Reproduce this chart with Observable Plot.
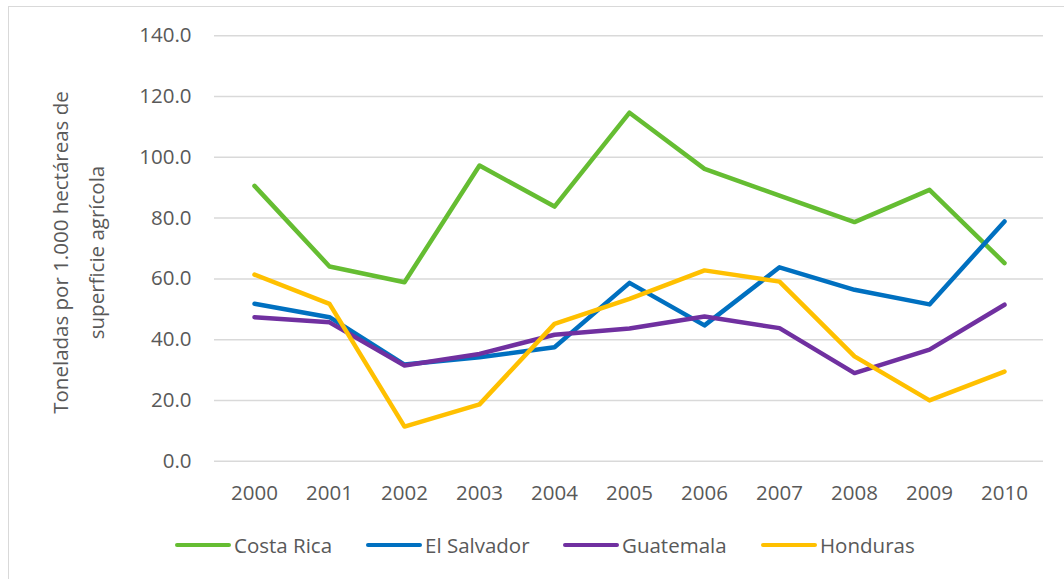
<!DOCTYPE html>
<html>
<head>
<meta charset="utf-8">
<script src="https://cdn.jsdelivr.net/npm/d3@7"></script>
<script src="https://cdn.jsdelivr.net/npm/@observablehq/plot@0.6"></script>
<style>
  html, body { margin: 0; padding: 0; background: #fff; overflow: hidden; }
  #wrap { position: relative; width: 1064px; height: 579px; overflow: hidden; font-family: "Open Sans", sans-serif; }
  #frame { position: absolute; left: 8px; top: 6px; width: 1200px; height: 800px; border: 1.5px solid #d9d9d9; box-sizing: border-box; }
  #chart { position: absolute; left: 0; top: 0; }
  .lg { position: absolute; top: 530px; height: 30px; display: flex; align-items: center; font-size: 20.5px; color: #595959; white-space: nowrap; }
  .sw { width: 56px; height: 4.5px; border-radius: 3px; margin-right: 3px; }
</style>
</head>
<body>
<div id="wrap">
  <div id="frame"></div>
  <div id="chart"></div>
  <div id="legend"></div>
</div>
<script>
const years = ["2000","2001","2002","2003","2004","2005","2006","2007","2008","2009","2010"];
const costaRica  = [90.6, 64.1, 58.9, 97.3, 83.8, 114.7, 96.2, 87.4, 78.7, 89.3, 65.2];
const elSalvador = [51.8, 47.4, 31.8, 34.2, 37.5, 58.7, 44.7, 63.8, 56.4, 51.6, 78.9];
const guatemala  = [47.4, 45.7, 31.5, 35.3, 41.6, 43.7, 47.6, 43.8, 29.0, 36.7, 51.5];
const honduras   = [61.4, 51.8, 11.4, 18.7, 45.2, 53.4, 62.8, 59.1, 34.5, 20.0, 29.5];
const seriesNames = ["Costa Rica", "El Salvador", "Guatemala", "Honduras"];
const seriesColors = ["#65bd32", "#0070c0", "#7030a0", "#ffc000"];
const yTicks = [0, 20, 40, 60, 80, 100, 120, 140];
const yTitle = "Toneladas por 1.000 hectáreas de\nsuperficie agrícola";
const legendLeft = [175, 366, 563, 761];

const seriesValues = [costaRica, elSalvador, guatemala, honduras];
const rows = [];
seriesNames.forEach((name, i) => {
  years.forEach((yr, j) => rows.push({year: yr, value: seriesValues[i][j], series: name}));
});

const H = 520;
const chart = Plot.plot({
  width: 1064,
  height: H,
  marginLeft: 214,
  marginRight: 21,
  marginTop: 35.3,
  marginBottom: H - 460.7,
  style: { fontFamily: "Open Sans, sans-serif", fontSize: "20.5px", color: "#595959", background: "transparent" },
  x: { type: "point", domain: years, padding: 0.5, label: null },
  y: { domain: [0, 140], label: null },
  color: { domain: seriesNames, range: seriesColors },
  marks: [
    Plot.gridY(yTicks, { stroke: "#d9d9d9", strokeOpacity: 1, strokeWidth: 1.5 }),
    Plot.axisY(yTicks, { tickSize: 0, tickPadding: 23, tickFormat: d => d.toFixed(1), label: null, fill: "#595959" }),
    Plot.axisX({ tickSize: 0, tickPadding: 24, label: null, fill: "#595959" }),
    Plot.line(rows, { x: "year", y: "value", z: "series", stroke: "series", strokeWidth: 4.5, strokeLinecap: "round", strokeLinejoin: "round" }),
    Plot.text([yTitle], { frameAnchor: "left", text: d => d, rotate: -90, dx: -140, dy: 4, lineHeight: 1.78, fill: "#595959", fontSize: 20.5, textAnchor: "middle", lineAnchor: "middle" })
  ]
});
document.getElementById("chart").appendChild(chart);

const legend = document.getElementById("legend");
seriesNames.forEach((name, i) => {
  const item = document.createElement("div");
  item.className = "lg";
  item.style.left = legendLeft[i] + "px";
  const sw = document.createElement("div");
  sw.className = "sw";
  sw.style.background = seriesColors[i];
  const t = document.createElement("span");
  t.textContent = name;
  item.appendChild(sw);
  item.appendChild(t);
  legend.appendChild(item);
});
</script>
</body>
</html>
